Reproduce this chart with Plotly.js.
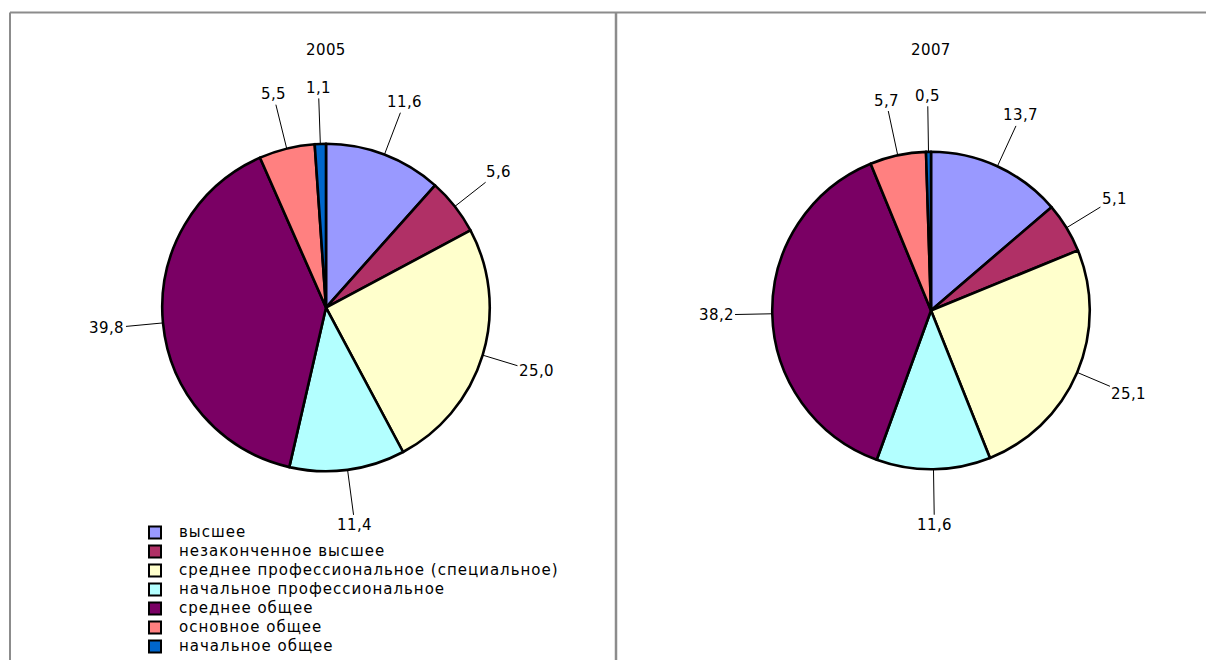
<!DOCTYPE html>
<html>
<head>
<meta charset="utf-8">
<script src="https://cdn.plot.ly/plotly-3.0.1.min.js"></script>
<style>
  html, body { margin: 0; padding: 0; background: #fff; }
  #chart { width: 1206px; height: 661px; }
  svg text { letter-spacing: 0.4px; }
  svg .legendtext { letter-spacing: 1px; font-size: 15px !important; }
  .legendpie { stroke: #000 !important; stroke-width: 2px !important; }
</style>
</head>
<body>
<div id="chart"></div>
<script>
// ---- data ----
const categories = [
  'высшее',
  'незаконченное высшее',
  'среднее профессиональное (специальное)',
  'начальное профессиональное',
  'среднее общее',
  'основное общее',
  'начальное общее'
];
const years = ['2005', '2007'];
const values2005 = [11.6, 5.6, 25.0, 11.4, 39.8, 5.5, 1.1];
const values2007 = [13.7, 5.1, 25.1, 11.6, 38.2, 5.7, 0.5];

// ---- style / layout ----
const W = 1206, H = 661;
const colors = ['#9999FF', '#B03066', '#FFFFCC', '#B3FFFF', '#7A0064', '#FF8080', '#0066CC'];
const FONT = 'DejaVu Sans, Liberation Sans, Arial, sans-serif';
// pie geometry in pixels
const pies = [
  { cx: 326, cy: 308, r: 164, values: values2005, year: years[0] },
  { cx: 931, cy: 311, r: 159, values: values2007, year: years[1] }
];
const LABEL_GAP = 56;

function fmt(v) { return v.toFixed(1).replace('.', ','); }

const traces = [];
const annotations = [];

pies.forEach((p, idx) => {
  traces.push({
    type: 'pie',
    labels: categories,
    values: p.values,
    sort: false,
    direction: 'clockwise',
    rotation: 0,
    textinfo: 'none',
    hoverinfo: 'none',
    showlegend: idx === 0,
    automargin: false,
    marker: { colors: colors, line: { color: '#000000', width: 2.6 } },
    domain: {
      x: [(p.cx - p.r) / W, (p.cx + p.r) / W],
      y: [1 - (p.cy + p.r) / H, 1 - (p.cy - p.r) / H]
    }
  });

  // title
  annotations.push({
    text: p.year, xref: 'paper', yref: 'paper',
    x: p.cx / W, y: 1 - 50 / H, xanchor: 'center', yanchor: 'middle',
    showarrow: false, font: { family: FONT, size: 15, color: '#000' }
  });

  // data labels with leader lines
  const total = p.values.reduce((a, b) => a + b, 0);
  let cum = 0;
  p.values.forEach((v) => {
    const mid = (cum + v / 2) / total * 2 * Math.PI;
    cum += v;
    const sx = Math.sin(mid), sy = -Math.cos(mid);
    const px = p.cx + p.r * sx, py = p.cy + p.r * sy;
    const lx = p.cx + (p.r + LABEL_GAP) * sx, ly = p.cy + (p.r + LABEL_GAP) * sy;
    annotations.push({
      text: fmt(v), xref: 'paper', yref: 'paper',
      x: px / W, y: 1 - py / H,
      ax: lx - px, ay: ly - py,
      showarrow: true, arrowhead: 0, arrowwidth: 1, arrowcolor: '#000', standoff: 0,
      font: { family: FONT, size: 15, color: '#000' }
    });
  });
});

// panel border lines
const lineStyle = { color: '#8c8c8c', width: 2 };
const shapes = [
  { type: 'line', xref: 'paper', yref: 'paper', x0: 10 / W, x1: 1, y0: 1 - 12.5 / H, y1: 1 - 12.5 / H, line: lineStyle },
  { type: 'line', xref: 'paper', yref: 'paper', x0: 10 / W, x1: 10 / W, y0: 1 - 12.5 / H, y1: 0, line: lineStyle },
  { type: 'line', xref: 'paper', yref: 'paper', x0: 616 / W, x1: 616 / W, y0: 1 - 12.5 / H, y1: 0, line: { color: '#8c8c8c', width: 2.5 } }
];

const layout = {
  width: W, height: H,
  margin: { l: 0, r: 0, t: 0, b: 0 },
  paper_bgcolor: '#fff',
  font: { family: FONT, size: 15, color: '#000' },
  showlegend: true,
  legend: {
    x: 131 / W, y: 1 - 519 / H, xanchor: 'left', yanchor: 'top',
    bgcolor: 'rgba(0,0,0,0)', borderwidth: 0,
    itemwidth: 38,
    font: { family: FONT, size: 12, color: '#000' },
    traceorder: 'normal'
  },
  annotations: annotations,
  shapes: shapes
};

Plotly.newPlot('chart', traces, layout, { staticPlot: true, displayModeBar: false });
</script>
</body>
</html>
